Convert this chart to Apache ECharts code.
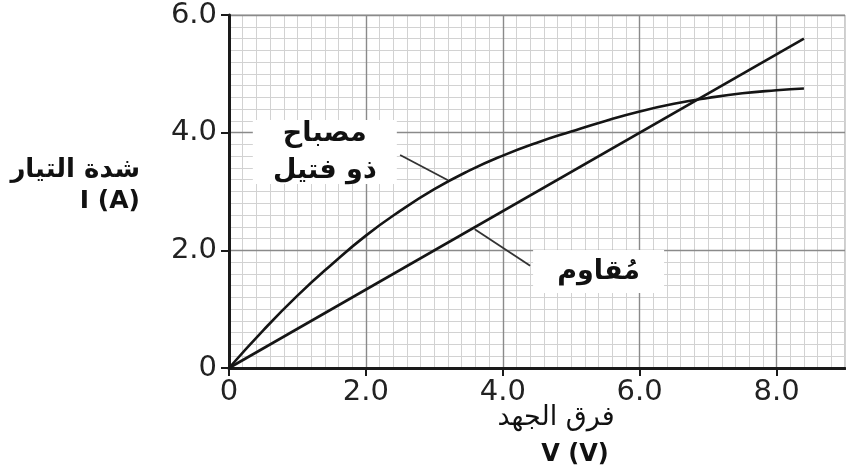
<!DOCTYPE html>
<html>
<head>
<meta charset="utf-8">
<script src="https://cdn.jsdelivr.net/npm/echarts@6/dist/echarts.min.js"></script>
<style>
html,body{margin:0;padding:0;background:#fff;}
#c{width:846px;height:470px;}
</style>
</head>
<body>
<div id="c"></div>
<script>
// ---- data ----
var xTicks = [0, 2, 4, 6, 8];
var yTicks = [0, 2, 4, 6];
var lampV = [0, 0.5, 1.0, 1.5, 2.0, 2.5, 3.0, 3.5, 4.0, 4.5, 5.0, 5.5, 6.0, 6.5, 7.0, 7.5, 8.0, 8.4];
var lampI = [0, 0.64, 1.23, 1.76, 2.25, 2.67, 3.04, 3.35, 3.61, 3.83, 4.02, 4.20, 4.36, 4.49, 4.59, 4.67, 4.72, 4.75];
var resV = [0, 8.4];
var resI = [0, 5.6];
var lampLabel = 'مصباح\nذو فتيل';
var resLabel = 'مُقاوم';
var yTitle1 = 'شدة التيار';
var yTitle2 = 'I (A)';
var xTitle1 = 'فرق الجهد';
var xTitle2 = 'V (V)';

function pairs(a, b) { return a.map(function (v, i) { return [v, b[i]]; }); }
function fmt(v) { return v === 0 ? '0' : v.toFixed(1); }

var FONT = 'DejaVu Sans';
var chart = echarts.init(document.getElementById('c'), null, {renderer: 'canvas'});

var option = {
  animation: false,
  backgroundColor: '#fff',
  grid: {left: 229, right: 1, top: 15, bottom: 102, show: true, borderColor: '#9a9a9a', borderWidth: 1, backgroundColor: 'transparent'},
  xAxis: [
    {
      type: 'value', min: 0, max: 9, interval: 2, z: 2,
      axisLine: {show: true, onZero: false, lineStyle: {color: '#1a1a1a', width: 3}},
      axisTick: {show: true, length: 8, customValues: xTicks, lineStyle: {color: '#1a1a1a', width: 2}},
      axisLabel: {show: true, customValues: xTicks, formatter: fmt, margin: 10, color: '#222', fontSize: 29, fontFamily: FONT},
      splitLine: {show: true, lineStyle: {color: '#8a8a8a', width: 1.4}}
    },
    {
      type: 'value', min: 0, max: 9, interval: 0.2, z: 0,
      axisLine: {show: false}, axisTick: {show: false}, axisLabel: {show: false},
      splitLine: {show: true, lineStyle: {color: '#d2d2d2', width: 1}}
    }
  ],
  yAxis: [
    {
      type: 'value', min: 0, max: 6, interval: 2, z: 2,
      axisLine: {show: true, onZero: false, lineStyle: {color: '#1a1a1a', width: 3}},
      axisTick: {show: true, length: 8, customValues: yTicks, lineStyle: {color: '#1a1a1a', width: 2}},
      axisLabel: {show: true, customValues: yTicks, formatter: fmt, margin: 12, color: '#222', fontSize: 29, fontFamily: FONT},
      splitLine: {show: true, lineStyle: {color: '#8a8a8a', width: 1.4}}
    },
    {
      type: 'value', min: 0, max: 6, interval: 0.2, z: 0,
      axisLine: {show: false}, axisTick: {show: false}, axisLabel: {show: false},
      splitLine: {show: true, lineStyle: {color: '#d2d2d2', width: 1}}
    }
  ],
  series: [
    {
      type: 'line', xAxisIndex: 0, yAxisIndex: 0, data: pairs(lampV, lampI),
      smooth: 0.5, showSymbol: false, z: 5,
      lineStyle: {color: '#151515', width: 2.6}
    },
    {
      type: 'line', xAxisIndex: 0, yAxisIndex: 0, data: pairs(resV, resI),
      showSymbol: false, z: 5,
      lineStyle: {color: '#151515', width: 2.6}
    }
  ]
};
chart.setOption(option);

// ---- annotations positioned in data coordinates ----
function px(p) { return chart.convertToPixel({xAxisIndex: 0, yAxisIndex: 0}, p); }
var lampBox = {c: [1.40, 3.67], w: 144, h: 64};
var resBox = {c: [5.40, 1.64], w: 131, h: 43};
var lampPtr = [[2.50, 3.62], [3.20, 3.19]];
var resPtr = [[3.59, 2.36], [4.40, 1.74]];

function box(b, text, fs, lh) {
  var p = px(b.c);
  return [
    {type: 'rect', z: 20, shape: {x: p[0] - b.w / 2, y: p[1] - b.h / 2, width: b.w, height: b.h}, style: {fill: '#fff'}},
    {type: 'text', z: 21, x: p[0], y: p[1], style: {text: text, font: 'bold ' + fs + 'px "' + FONT + '"', fill: '#111', align: 'center', verticalAlign: 'middle', lineHeight: lh}}
  ];
}
function ptr(seg) {
  var a = px(seg[0]), b = px(seg[1]);
  return {type: 'line', z: 19, shape: {x1: a[0], y1: a[1], x2: b[0], y2: b[1]}, style: {stroke: '#333', lineWidth: 1.8}};
}
var els = [].concat(
  box(lampBox, lampLabel, 27, 37),
  box(resBox, resLabel, 27, 30),
  [ptr(lampPtr), ptr(resPtr)],
  [
    {type: 'text', z: 21, x: 140, y: 170, style: {text: yTitle1, font: 'bold 26px "' + FONT + '"', fill: '#111', align: 'right', verticalAlign: 'middle'}},
    {type: 'text', z: 21, x: 140, y: 201, style: {text: yTitle2, font: 'bold 25px "' + FONT + '"', fill: '#111', align: 'right', verticalAlign: 'middle'}},
    {type: 'text', z: 21, x: 556, y: 418, style: {text: xTitle1, font: '27px "' + FONT + '"', fill: '#111', align: 'center', verticalAlign: 'middle'}},
    {type: 'text', z: 21, x: 575, y: 455, style: {text: xTitle2, font: 'bold 24px "' + FONT + '"', fill: '#111', align: 'center', verticalAlign: 'middle'}}
  ]
);
chart.setOption({graphic: {elements: els}});
</script>
</body>
</html>
